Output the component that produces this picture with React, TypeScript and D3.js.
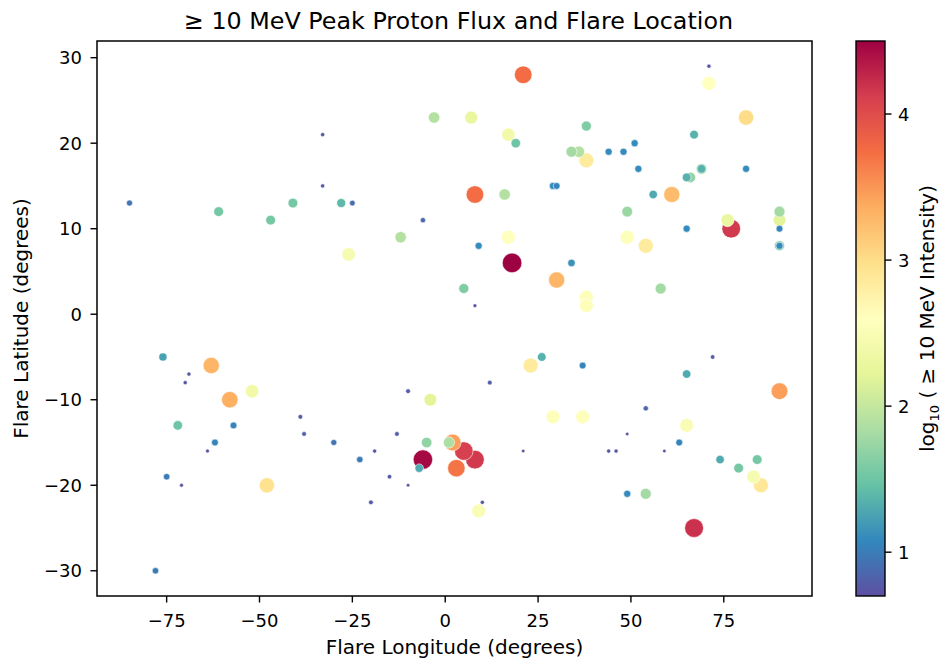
import React from 'react';
import * as d3 from 'd3';

// flare longitude (deg), latitude (deg), log10 of >=10 MeV peak proton intensity
const lon = [
  -85, -61, -47, -41, -33, -33, -28, -25, -26, -6,
  -3, 7, 21, 17, 19, 38, 34, 36, 38, 44,
  48, 51, 52, 29, 30, 8, 16, -12, 17, 9,
  18, 34, 30, 5, 8, 38, 38, 49, 49, 71,
  71, 81, 67, 81, 69, 69, 65, 66, 56, 61,
  65, 76, 77, 90, 90, 90, 90, 90, 54, 58,
  -76, -69, -70, -63, -58, -52, -72, -57, -62, -64,
  -75, -71, -48, -39, -38, -30, -23, -19, -13, -10,
  -15, -10, -20, -4, -5, -6, -7, 2, 1, 5,
  8, 3, 10, 9, 12, 21, 23, 26, 37, 29,
  37, 44, 46, 49, 49, 72, 65, 90, 54, 65,
  63, 59, 74, 84, 79, 83, 85, 54, 67, -78,
];
const lat = [
  13, 12, 11, 13, 21, 15, 13, 13, 7, 11,
  23, 23, 28, 21, 20, 22, 19, 19, 18, 19,
  19, 20, 17, 15, 15, 14, 14, 9, 9, 8,
  6, 6, 4, 3, 1, 2, 1, 12, 9, 29,
  27, 23, 21, 17, 17, 17, 16, 16, 14, 14,
  10, 11, 10, 12, 11, 10, 8, 8, 8, 3,
  -5, -7, -8, -6, -10, -9, -13, -13, -15, -16,
  -19, -20, -20, -12, -14, -15, -17, -16, -14, -9,
  -19, -20, -22, -10, -15, -17, -18, -15, -15, -16,
  -17, -18, -22, -23, -8, -16, -6, -5, -6, -12,
  -12, -16, -16, -14, -21, -5, -7, -9, -11, -13,
  -15, -16, -17, -17, -18, -19, -20, -21, -25, -30,
];
const logFlux = [
  0.95, 1.55, 1.55, 1.55, 0.75, 0.75, 1.4, 0.9, 2.45, 0.85,
  1.9, 2.3, 3.75, 2.4, 1.5, 1.6, 1.8, 1.9, 2.85, 1.1,
  1.1, 1.1, 1.1, 1.1, 1.05, 3.75, 1.9, 1.9, 2.6, 1.1,
  4.5, 1.15, 3.3, 1.6, 0.72, 2.55, 2.55, 1.75, 2.55, 0.75,
  2.6, 3.0, 1.35, 1.1, 1.75, 1.35, 1.35, 1.7, 1.3, 3.25,
  1.1, 2.3, 4.15, 1.8, 2.2, 1.05, 1.6, 1.1, 2.85, 1.8,
  1.25, 0.75, 0.75, 3.3, 3.35, 2.4, 1.5, 1.05, 1.05, 0.72,
  1.0, 0.72, 2.95, 0.8, 0.8, 0.95, 1.0, 0.75, 0.8, 0.8,
  0.78, 0.7, 0.8, 2.2, 1.7, 4.45, 1.3, 3.45, 1.85, 4.1,
  4.15, 3.7, 0.75, 2.5, 0.8, 0.7, 2.85, 1.35, 1.05, 2.55,
  2.55, 0.75, 0.75, 0.7, 1.1, 0.78, 1.3, 3.45, 0.85, 2.5,
  1.05, 0.7, 1.3, 1.55, 1.55, 2.45, 2.9, 1.8, 4.2, 1.0,
];

const xTicks = [-75, -50, -25, 0, 25, 50, 75];
const yTicks = [-30, -20, -10, 0, 10, 20, 30];
const cbTicks = [1, 2, 3, 4];

// matplotlib Spectral, low -> high after reversing
const spectral = [
  '#9e0142', '#d53e4f', '#f46d43', '#fdae61', '#fee08b', '#ffffbf',
  '#e6f598', '#abdda4', '#66c2a5', '#3288bd', '#5e4fa2',
];

const fmt = (v: number) => (v < 0 ? '\u2212' + Math.abs(v) : String(v));

export default function App() {
  const width = 941;
  const height = 663;
  const left = 97;
  const right = 812;
  const top = 41;
  const bottom = 596;
  const cbLeft = 856;
  const cbRight = 885;
  const font = 'DejaVu Sans, sans-serif';

  const padExt = (e: [number, number]) => {
    const s = e[1] - e[0];
    return [e[0] - 0.05 * s, e[1] + 0.05 * s];
  };

  const x = d3.scaleLinear().domain(padExt(d3.extent(lon) as [number, number])).range([left, right]);
  const y = d3.scaleLinear().domain(padExt(d3.extent(lat) as [number, number])).range([bottom, top]);
  const vExt = d3.extent(logFlux) as [number, number];
  const stops = spectral.slice().reverse();
  const color = d3
    .scaleLinear<string>()
    .domain(stops.map((_, i) => vExt[0] + (i / (stops.length - 1)) * (vExt[1] - vExt[0])))
    .range(stops)
    .interpolate(d3.interpolateRgb);
  const radius = d3.scaleRadial().domain(vExt).range([1.8, 9.8]);
  const cb = d3.scaleLinear().domain(vExt).range([bottom, top]);

  const order = d3.range(lon.length).sort((a, b) => logFlux[b] - logFlux[a]);

  return (
    <svg
      width={width}
      height={height}
      style={{ position: 'absolute', left: 0, top: 0, background: '#fff' }}
      fontFamily={font}
    >
      <defs>
        <linearGradient id="cbGrad" x1="0" y1="1" x2="0" y2="0">
          {stops.map((c, i) => (
            <stop key={i} offset={i / (stops.length - 1)} stopColor={c} />
          ))}
        </linearGradient>
      </defs>

      {/* points */}
      <g>
        {order.map(i => (
          <circle
            key={i}
            cx={x(lon[i])}
            cy={y(lat[i])}
            r={radius(logFlux[i])}
            fill={color(logFlux[i])}
            stroke="#fff"
            strokeWidth={0.6}
          />
        ))}
      </g>

      {/* frame */}
      <rect x={left} y={top} width={right - left} height={bottom - top} fill="none" stroke="#000" strokeWidth={1.5} />

      {/* x axis */}
      {xTicks.map(t => (
        <g key={t}>
          <line x1={x(t)} x2={x(t)} y1={bottom} y2={bottom + 6.5} stroke="#000" strokeWidth={1.4} />
          <text x={x(t)} y={627} textAnchor="middle" fontSize={18}>
            {fmt(t)}
          </text>
        </g>
      ))}
      <text x={(left + right) / 2} y={654} textAnchor="middle" fontSize={20}>
        Flare Longitude (degrees)
      </text>

      {/* y axis */}
      {yTicks.map(t => (
        <g key={t}>
          <line x1={left - 6.5} x2={left} y1={y(t)} y2={y(t)} stroke="#000" strokeWidth={1.4} />
          <text x={82} y={y(t)} dy="0.36em" textAnchor="end" fontSize={18}>
            {fmt(t)}
          </text>
        </g>
      ))}
      <text
        transform={`translate(28, ${(top + bottom) / 2}) rotate(-90)`}
        textAnchor="middle"
        fontSize={20}
      >
        Flare Latitude (degrees)
      </text>

      {/* title */}
      <text x={(left + right) / 2 + 4} y={28.5} textAnchor="middle" fontSize={23.8}>
        ≥ 10 MeV Peak Proton Flux and Flare Location
      </text>

      {/* colorbar */}
      <rect x={cbLeft} y={top} width={cbRight - cbLeft} height={bottom - top} fill="url(#cbGrad)" />
      <rect x={cbLeft} y={top} width={cbRight - cbLeft} height={bottom - top} fill="none" stroke="#000" strokeWidth={1.4} />
      {cbTicks.map(t => (
        <g key={t}>
          <line x1={cbRight} x2={cbRight + 6.5} y1={cb(t)} y2={cb(t)} stroke="#000" strokeWidth={1.4} />
          <text x={cbRight + 13} y={cb(t)} dy="0.36em" fontSize={18}>
            {t}
          </text>
        </g>
      ))}
      <text
        transform={`translate(934, ${(top + bottom) / 2}) rotate(-90)`}
        textAnchor="middle"
        fontSize={20}
      >
        log
        <tspan fontSize={13} dy={5}>10</tspan>
        <tspan dy={-5}> ( ≥ 10 MeV Intensity)</tspan>
      </text>
    </svg>
  );
}
